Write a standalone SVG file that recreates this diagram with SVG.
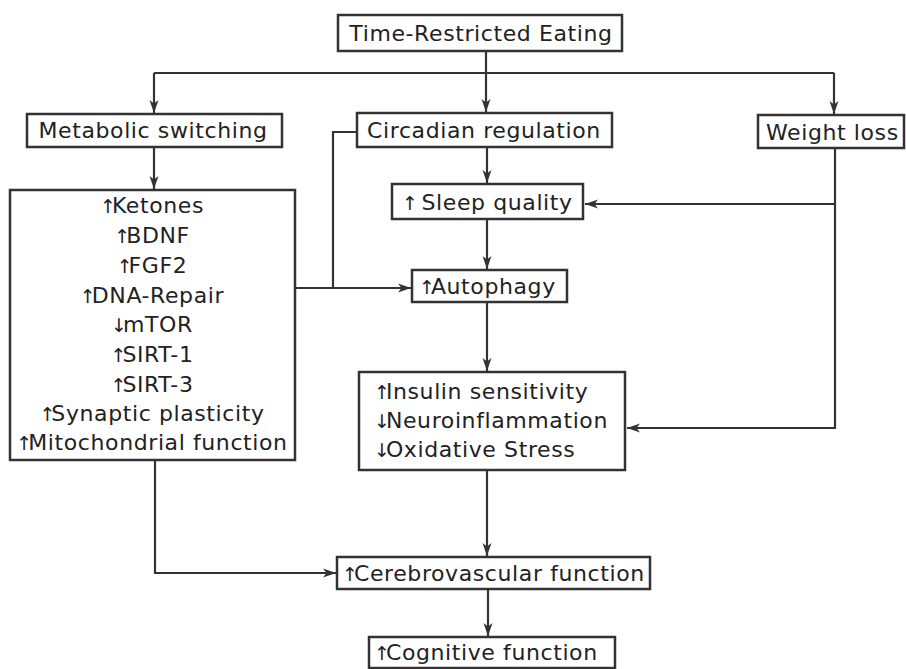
<svg xmlns="http://www.w3.org/2000/svg" width="906" height="669" viewBox="0 0 906 669">
<defs>
<style>
.box{fill:#fff;stroke:#333;stroke-width:2.5}
.t{font-family:"DejaVu Sans",Verdana,sans-serif;font-size:22px;letter-spacing:0.6px;fill:#222}
.m{text-anchor:middle}
.ar{font-family:"DejaVu Sans",sans-serif;font-size:19px;letter-spacing:-4px;fill:#222}
.c{fill:none;stroke:#333;stroke-width:2.2}
</style>
<marker id="ah" markerUnits="userSpaceOnUse" markerWidth="14" markerHeight="10" refX="13" refY="5" orient="auto">
<path d="M0,0.5 L13,5 L0,9.5 L3.5,5 Z" fill="#333"/>
</marker>
</defs>
<rect width="906" height="669" fill="#fff"/>
<g id="connectors">
<path class="c" d="M154,73 H834"/>
<path class="c" d="M154,73 V113" marker-end="url(#ah)"/>
<path class="c" d="M486,51 V112" marker-end="url(#ah)"/>
<path class="c" d="M834,73 V114" marker-end="url(#ah)"/>
<path class="c" d="M154,148 V189" marker-end="url(#ah)"/>
<path class="c" d="M487,148 V183" marker-end="url(#ah)"/>
<path class="c" d="M487,220 V269" marker-end="url(#ah)"/>
<path class="c" d="M835,149 V428 H627" marker-end="url(#ah)"/>
<path class="c" d="M835,204 H585" marker-end="url(#ah)"/>
<path class="c" d="M357,132 H333 V288"/>
<path class="c" d="M296,288 H411" marker-end="url(#ah)"/>
<path class="c" d="M487,303 V371" marker-end="url(#ah)"/>
<path class="c" d="M487,471 V556" marker-end="url(#ah)"/>
<path class="c" d="M155,461 V573 H336" marker-end="url(#ah)"/>
<path class="c" d="M488,590 V636" marker-end="url(#ah)"/>
</g>
<g id="tre">
<rect class="box" x="338" y="15" width="284" height="36"/>
<text class="t m" x="481" y="41">Time-Restricted Eating</text>
</g>
<g id="metabolic">
<rect class="box" x="27" y="114" width="255" height="33"/>
<text class="t m" x="153" y="138">Metabolic switching</text>
</g>
<g id="circadian">
<rect class="box" x="357" y="113" width="255" height="34"/>
<text class="t m" x="484" y="138">Circadian regulation</text>
</g>
<g id="weight">
<rect class="box" x="758" y="115" width="146" height="33"/>
<text class="t" x="766" y="140">Weight loss</text>
</g>
<g id="sleep">
<rect class="box" x="392" y="184" width="191" height="35"/>
<text class="t" x="402" y="210"><tspan class="ar">↑</tspan> Sleep quality</text>
</g>
<g id="ketones">
<rect class="box" x="10" y="190" width="285" height="270"/>
<text class="t m" x="152" y="213"><tspan class="ar">↑</tspan>Ketones</text>
<text class="t m" x="152" y="243"><tspan class="ar">↑</tspan>BDNF</text>
<text class="t m" x="152" y="273"><tspan class="ar">↑</tspan>FGF2</text>
<text class="t m" x="152" y="303"><tspan class="ar">↑</tspan>DNA-Repair</text>
<text class="t m" x="152" y="332"><tspan class="ar">↓</tspan>mTOR</text>
<text class="t m" x="152" y="362"><tspan class="ar">↑</tspan>SIRT-1</text>
<text class="t m" x="152" y="392"><tspan class="ar">↑</tspan>SIRT-3</text>
<text class="t m" x="152" y="421"><tspan class="ar">↑</tspan>Synaptic plasticity</text>
<text class="t m" x="152" y="450"><tspan class="ar">↑</tspan>Mitochondrial function</text>
</g>
<g id="autophagy">
<rect class="box" x="412" y="270" width="155" height="32"/>
<text class="t" x="419" y="294"><tspan class="ar">↑</tspan>Autophagy</text>
</g>
<g id="insulin">
<rect class="box" x="359" y="372" width="266" height="98"/>
<text class="t" x="374" y="399"><tspan class="ar">↑</tspan>Insulin sensitivity</text>
<text class="t" x="374" y="428"><tspan class="ar">↓</tspan>Neuroinflammation</text>
<text class="t" x="374" y="457"><tspan class="ar">↓</tspan>Oxidative Stress</text>
</g>
<g id="cerebro">
<rect class="box" x="337" y="557" width="313" height="32"/>
<text class="t" x="342" y="581"><tspan class="ar">↑</tspan>Cerebrovascular function</text>
</g>
<g id="cognitive">
<rect class="box" x="369" y="637" width="246" height="31"/>
<text class="t" x="374" y="660"><tspan class="ar">↑</tspan>Cognitive function</text>
</g>
</svg>
